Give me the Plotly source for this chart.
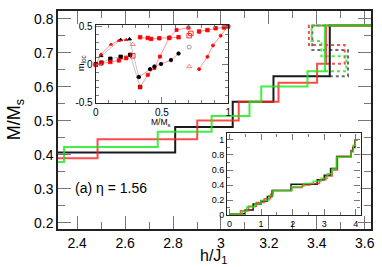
import plotly.graph_objects as go

# ---------------- main panel data (step curves) ----------------
black_x = [2.32, 2.809, 2.809, 3.049, 3.049, 3.219, 3.219, 3.454, 3.454, 3.626]
black_y = [0.407, 0.407, 0.482, 0.482, 0.556, 0.556, 0.631, 0.631, 0.780, 0.780]
red_x = [2.32, 2.485, 2.485, 2.901, 2.901, 3.074, 3.074, 3.240, 3.240, 3.401, 3.401, 3.438, 3.438, 3.626]
red_y = [0.390, 0.390, 0.446, 0.446, 0.501, 0.501, 0.556, 0.556, 0.612, 0.612, 0.668, 0.668, 0.780, 0.780]
green_x = [2.32, 2.345, 2.345, 2.736, 2.736, 2.961, 2.961, 3.119, 3.119, 3.168, 3.168, 3.361, 3.361, 3.434, 3.434, 3.626]
green_y = [0.379, 0.379, 0.423, 0.423, 0.468, 0.468, 0.514, 0.514, 0.556, 0.556, 0.601, 0.601, 0.646, 0.646, 0.780, 0.780]
# dotted variants
black_dot_x = [3.454, 3.530, 3.530, 3.381, 3.381, 3.454]
black_dot_y = [0.631, 0.631, 0.708, 0.708, 0.780, 0.780]
red_dot_x = [3.438, 3.516, 3.516, 3.367, 3.367, 3.438]
red_dot_y = [0.668, 0.668, 0.723, 0.723, 0.780, 0.780]
green_dot_x = [3.434, 3.523, 3.523, 3.419, 3.419, 3.378, 3.378, 3.434]
green_dot_y = [0.646, 0.646, 0.690, 0.690, 0.735, 0.735, 0.780, 0.780]

main_xticks = [2.4, 2.6, 2.8, 3.0, 3.2, 3.4, 3.6]
main_xticktext = ["2.4", "2.6", "2.8", "3", "3.2", "3.4", "3.6"]
main_yticks = [0.2, 0.3, 0.4, 0.5, 0.6, 0.7, 0.8]
main_yticktext = ["0.2", "0.3", "0.4", "0.5", "0.6", "0.7", "0.8"]

# ---------------- inset 1 data (m_loc vs M/Ms) ----------------
tri_red_x = [0.0, 0.04, 0.115, 0.175, 0.23]
tri_red_y = [0.0, 0.14, 0.27, 0.32, 0.33]
tri_blk_x = [0.04, 0.188, 0.255, 0.325]
tri_blk_y = [0.12, 0.33, 0.34, -0.158]
sq_red_x = [0.0, 0.04, 0.11, 0.175, 0.23]
sq_red_y = [0.0, 0.02, 0.04, 0.06, 0.09]
sq_blk_x = [0.0, 0.043, 0.11, 0.188, 0.26, 0.335]
sq_blk_y = [0.01, 0.03, 0.081, 0.107, 0.133, -0.29]
dip_red_x = [0.335, 0.393, 0.443, 0.485, 0.555, 0.61, 0.70]
dip_red_y = [-0.29, -0.13, -0.04, 0.11, 0.36, 0.46, 0.49]
dip2_x = [0.325, 0.41, 0.443, 0.493, 0.568, 0.625]
dip2_y = [-0.158, -0.055, -0.02, 0.013, 0.064, 0.15]
up_x = [0.335, 0.393, 0.418, 0.48, 0.555, 0.625]
up_y = [0.364, 0.355, 0.342, 0.351, 0.355, 0.364]
right_x = [0.78, 0.843, 0.885, 0.943, 1.0]
right_y = [-0.055, 0.107, 0.257, 0.385, 0.513]
top_x = [0.78, 0.843, 0.905, 0.968, 1.0]
top_y = [0.44, 0.458, 0.483, 0.492, 0.505]
open_sq_x = [0.28, 0.705, 0.718]
open_sq_y = [0.12, 0.385, 0.415]
open_tri_x = [0.28, 0.705, 0.70]
open_tri_y = [0.27, -0.021, 0.49]
open_circ_x = [0.705]
open_circ_y = [0.235]

in1_xticks = [0, 0.5, 1]
in1_xticktext = ["0", "0.5", "1"]
in1_yticks = [-0.5, 0, 0.5]
in1_yticktext = ["-0.5", "0", "0.5"]

# ---------------- inset 2 data (full curve) ----------------
in2_black_x = [0, 0.5, 0.5, 0.75, 0.75, 1.0, 1.0, 1.2, 1.2, 1.35, 1.35, 1.95, 1.95, 2.78, 2.78, 3.0, 3.0, 3.2, 3.2, 3.4, 3.4, 3.85, 3.85, 3.9, 3.9, 3.97, 3.97, 4.05]
in2_black_y = [0.02, 0.02, 0.07, 0.07, 0.15, 0.15, 0.19, 0.19, 0.25, 0.25, 0.33, 0.33, 0.41, 0.41, 0.47, 0.47, 0.53, 0.53, 0.62, 0.62, 0.78, 0.78, 0.85, 0.85, 0.9, 0.9, 1.0, 1.0]
in2_red_x = [0, 0.35, 0.35, 0.6, 0.6, 0.85, 0.85, 1.1, 1.1, 1.3, 1.3, 1.38, 1.38, 1.97, 1.97, 2.3, 2.3, 2.55, 2.55, 2.85, 2.85, 3.05, 3.05, 3.25, 3.25, 3.42, 3.42, 3.85, 3.85, 3.92, 3.92, 3.98, 3.98, 4.05]
in2_red_y = [0.02, 0.02, 0.06, 0.06, 0.12, 0.12, 0.17, 0.17, 0.22, 0.22, 0.28, 0.28, 0.33, 0.33, 0.37, 0.37, 0.40, 0.40, 0.42, 0.42, 0.47, 0.47, 0.52, 0.52, 0.60, 0.60, 0.78, 0.78, 0.86, 0.86, 0.92, 0.92, 1.0, 1.0]
in2_green_x = [0, 0.4, 0.4, 0.55, 0.55, 0.8, 0.8, 1.0, 1.0, 1.25, 1.25, 1.38, 1.38, 1.98, 1.98, 2.35, 2.35, 2.65, 2.65, 2.9, 2.9, 3.1, 3.1, 3.25, 3.25, 3.38, 3.38, 3.85, 3.85, 3.92, 3.92, 3.98, 3.98, 4.05]
in2_green_y = [0.02, 0.02, 0.05, 0.05, 0.11, 0.11, 0.15, 0.15, 0.2, 0.2, 0.26, 0.26, 0.33, 0.33, 0.38, 0.38, 0.42, 0.42, 0.45, 0.45, 0.49, 0.49, 0.55, 0.55, 0.62, 0.62, 0.77, 0.77, 0.84, 0.84, 0.93, 0.93, 1.0, 1.0]

in2_xticks = [0, 1, 2, 3, 4]
in2_xticktext = ["0", "1", "2", "3", "4"]
in2_yticks = [0, 0.2, 0.4, 0.6, 0.8, 1.0]
in2_yticktext = ["0", "0.2", "0.4", "0.6", "0.8", "1"]

BLACK = "#1a1a1a"
RED = "rgba(255,30,30,0.8)"
GREEN = "rgba(20,235,20,0.8)"
FONT = "Liberation Sans, Arial, sans-serif"

fig = go.Figure()

def line(x, y, color, width=2, dash="solid", xa="x", ya="y"):
    fig.add_trace(go.Scatter(x=x, y=y, mode="lines", xaxis=xa, yaxis=ya,
                             line=dict(color=color, width=width, dash=dash),
                             showlegend=False, hoverinfo="skip"))

# main panel
line(black_dot_x, black_dot_y, "rgba(90,90,90,0.9)", 2, "dot")
line(red_dot_x, red_dot_y, RED, 2, "dot")
line(green_dot_x, green_dot_y, GREEN, 2, "dot")
line(black_x, black_y, BLACK)
line(red_x, red_y, RED)
line(green_x, green_y, GREEN)

# inset 1
def pts(x, y, lcolor, mcolor, symbol, size, mode="lines+markers"):
    fig.add_trace(go.Scatter(x=x, y=y, mode=mode, xaxis="x2", yaxis="y2",
                             line=dict(color=lcolor, width=0.7),
                             marker=dict(color=mcolor, symbol=symbol, size=size,
                                         line=dict(width=0.8, color=mcolor)),
                             cliponaxis=False, showlegend=False, hoverinfo="skip"))

pts(tri_blk_x, tri_blk_y, "#aaaaaa", "black", "triangle-up", 3.5)
pts(tri_red_x, tri_red_y, "rgba(255,60,60,0.8)", "red", "triangle-up", 3)
pts(sq_blk_x, sq_blk_y, "#aaaaaa", "black", "square", 3.5)
pts(sq_red_x, sq_red_y, "rgba(255,60,60,0.8)", "red", "square", 3.5)
pts(dip_red_x, dip_red_y, "rgba(255,60,60,0.8)", "red", "square", 3)
pts(dip2_x, dip2_y, "rgba(255,60,60,0.8)", "black", "circle", 3.5)
pts(up_x, up_y, "rgba(255,60,60,0.8)", "red", "square", 3.5)
pts(right_x, right_y, "rgba(255,60,60,0.8)", "red", "circle", 3)
pts(top_x, top_y, "rgba(255,60,60,0.8)", "red", "square", 3.5)
pts(open_sq_x, open_sq_y, "red", "red", "square-open", 4.5, "markers")
pts(open_tri_x, open_tri_y, "gray", "rgba(255,80,80,0.9)", "triangle-up-open", 4.5, "markers")
pts(open_circ_x, open_circ_y, "gray", "gray", "circle-open", 4, "markers")

# inset 2
line(in2_black_x, in2_black_y, BLACK, 1.5, xa="x3", ya="y3")
line(in2_red_x, in2_red_y, RED, 1.5, xa="x3", ya="y3")
line(in2_green_x, in2_green_y, GREEN, 1.5, xa="x3", ya="y3")

def axis(rng, vals, text, minor_dtick, minor0, domain=None, anchor=None,
         size=14, tl=13, mtl=7, lw=1.5):
    d = dict(range=rng, tickmode="array", tickvals=vals, ticktext=text,
             ticks="inside", ticklen=tl, tickwidth=1.2, tickcolor="#777",
             showline=True, linecolor="#222", linewidth=lw, mirror="ticks",
             showgrid=False, zeroline=False,
             tickfont=dict(family=FONT, size=size, color="black"),
             minor=dict(tickmode="linear", tick0=minor0, dtick=minor_dtick,
                        ticks="inside", ticklen=mtl, tickcolor="#777", tickwidth=1.2))
    if domain is not None:
        d["domain"] = domain
    if anchor is not None:
        d["anchor"] = anchor
    return d

fig.update_layout(
    width=382, height=267,
    margin=dict(l=58, r=9, t=7, b=38),
    paper_bgcolor="white", plot_bgcolor="white",
    font=dict(family=FONT, color="black"),
    xaxis=axis([2.32, 3.626], main_xticks, main_xticktext, 0.1, 2.3),
    yaxis=axis([0.182, 0.823], main_yticks, main_yticktext, 0.05, 0.15),
    xaxis2=axis([0, 1], in1_xticks, in1_xticktext, 0.1, 0, domain=[0.1206, 0.5438], anchor="y2",
                size=10, tl=6, mtl=3, lw=1.2),
    yaxis2=axis([-0.5, 0.52], in1_yticks, in1_yticktext, 0.1, 0, domain=[0.578, 0.934], anchor="x2",
                size=10, tl=6, mtl=3, lw=1.2),
    xaxis3=axis([-0.07, 4.15], in2_xticks, in2_xticktext, 0.5, 0, domain=[0.5406, 0.9667], anchor="y3",
                size=9, tl=6, mtl=3, lw=1.2),
    yaxis3=axis([0, 1.086], in2_yticks, in2_yticktext, 0.1, 0, domain=[0.0631, 0.4383], anchor="x3",
                size=9, tl=6, mtl=3, lw=1.2),
    annotations=[
        dict(text="(a) \u03b7 = 1.56", x=0.168, y=0.189, xref="paper", yref="paper",
             showarrow=False, font=dict(size=14, family=FONT), xanchor="center", yanchor="middle"),
        dict(text="M/M<sub>s</sub>", x=-0.1365, y=0.5, xref="paper", yref="paper", textangle=-90,
             showarrow=False, font=dict(size=18, family=FONT), xanchor="center", yanchor="middle"),
        dict(text="h/J<sub>1</sub>", x=0.498, y=-0.126, xref="paper", yref="paper",
             showarrow=False, font=dict(size=16, family=FONT), xanchor="center", yanchor="middle"),
        dict(text="M/M<sub>s</sub>", x=0.329, y=0.49, xref="paper", yref="paper",
             showarrow=False, font=dict(size=8.5, family=FONT), xanchor="center", yanchor="middle"),
        dict(text="m<sub>loc</sub>", x=0.073, y=0.761, xref="paper", yref="paper", textangle=-90,
             showarrow=False, font=dict(size=9, family=FONT), xanchor="center", yanchor="middle"),
    ],
)

fig.write_html("out.html", config={"displayModeBar": False},
               post_script="document.body.style.margin='0px';")
